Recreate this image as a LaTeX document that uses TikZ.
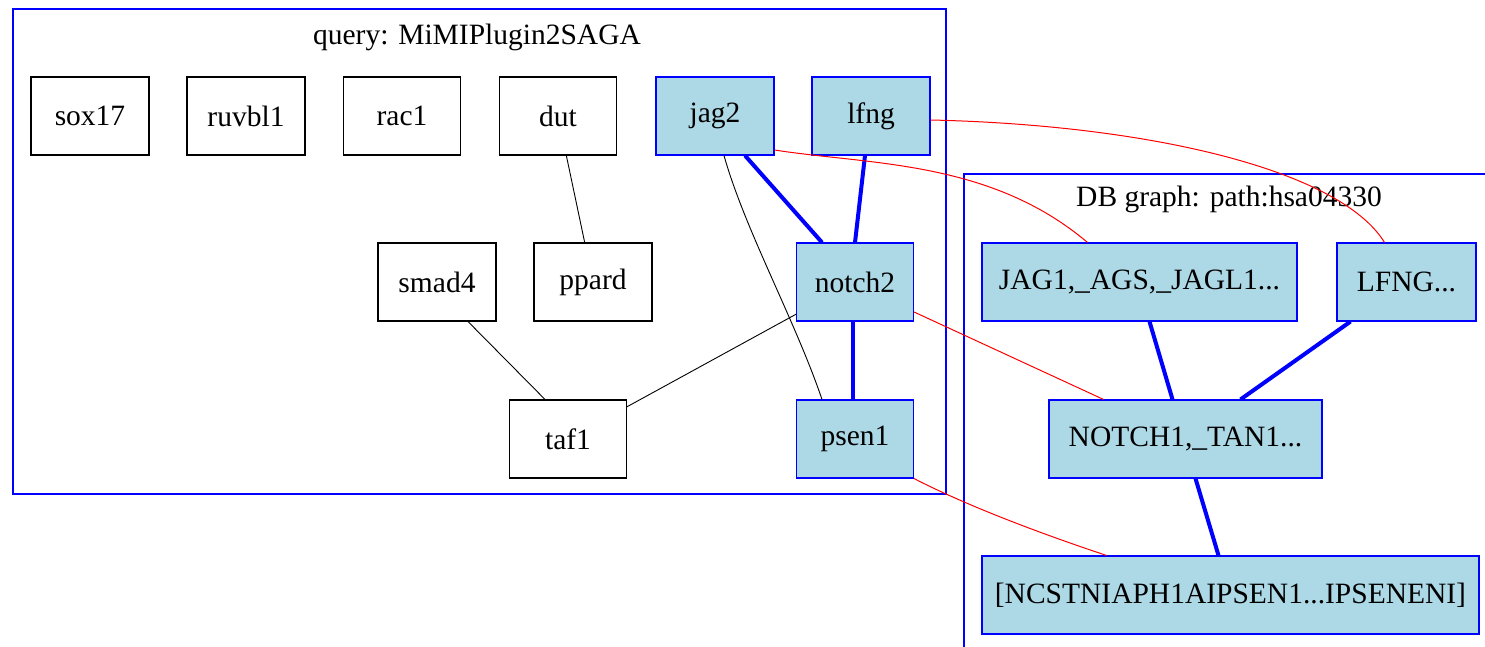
\documentclass[tikz,border=0pt]{standalone}
\usepackage{fontspec}
\setmainfont{Liberation Serif}
\usetikzlibrary{calc}
\definecolor{lblue}{RGB}{173,216,230}
\definecolor{pblue}{RGB}{0,0,255}
\definecolor{pred}{RGB}{255,0,0}
\tikzset{
  gnode/.style={draw=black, line width=1.1pt, rectangle, minimum height=78pt, inner sep=0pt, font=\fontsize{29.5}{33}\selectfont},
  hnode/.style={gnode, draw=pblue, fill=lblue},
  cluster/.style={draw=pblue, line width=1.4pt},
  ctitle/.style={font=\fontsize{29.5}{33}\selectfont, inner sep=0pt},
  thin/.style={draw=black, line width=0.9pt},
  thick/.style={draw=pblue, line width=4pt},
  map/.style={draw=pred, line width=1pt},
}
\begin{document}
\begin{tikzpicture}[x=1pt,y=-1pt]
\useasboundingbox (0,0) rectangle (1485,647);
\clip (0,0) rectangle (1485,647);
\fill[white] (0,0) rectangle (1485,647);
% clusters
\draw[cluster] (13,9) rectangle (946,494);
\node[ctitle] (qtitle) at (477,37) {query: MiMIPlugin2SAGA};
\draw[cluster] (964,174) rectangle (1520,680);
\node[ctitle] (dbtitle) at (1229,199) {DB graph: path:hsa04330};
% query nodes
\node[gnode, minimum width=118pt] (sox17) at (90,116) {sox17};
\node[gnode, minimum width=118pt] (ruvbl1) at (246,116) {ruvbl1};
\node[gnode, minimum width=117pt] (rac1) at (402,116) {rac1};
\node[gnode, minimum width=117pt] (dut) at (558,116) {dut};
\node[hnode, minimum width=118pt] (jag2) at (715,116) {jag2};
\node[hnode, minimum width=118pt] (lfng) at (871,116) {lfng};
\node[gnode, minimum width=118pt] (smad4) at (437,282) {smad4};
\node[gnode, minimum width=118pt] (ppard) at (593,282) {ppard};
\node[hnode, minimum width=117pt] (notch2) at (855,282) {notch2};
\node[gnode, minimum width=117pt] (taf1) at (568,439) {taf1};
\node[hnode, minimum width=117pt] (psen1) at (855,439) {psen1};
% DB nodes
\node[hnode, minimum width=315pt] (JAG1) at (1139.5,282) {JAG1,\_AGS,\_JAGL1...};
\node[hnode, minimum width=139pt] (LFNG) at (1406.5,282) {LFNG...};
\node[hnode, minimum width=273pt] (NOTCH1) at (1185.5,439) {NOTCH1,\_TAN1...};
\node[hnode, minimum width=497pt] (NCSTN) at (1230.5,595) {[NCSTNIAPH1AIPSEN1...IPSENENI]};
% query edges
\draw[thin] (dut) -- (ppard);
\draw[thin] ($(smad4.south)+(31,0)$) -- ($(taf1.north)+(-23,0)$);
\draw[thin] (notch2) -- (taf1);
\draw[thin] ($(jag2.south)+(9,0)$) .. controls (745,230) and (795,320) .. ($(psen1.north)+(-33,0)$);
\draw[thick] ($(jag2.south)+(30,0)$) -- ($(notch2.north)+(-33,0)$);
\draw[thick] ($(lfng.south)+(-6,0)$) -- ($(notch2.north)+(0,0)$);
\draw[thick] ($(notch2.south)+(-2,0)$) -- ($(psen1.north)+(-2,0)$);
% DB edges
\draw[thick] ($(JAG1.south)+(10,0)$) -- ($(NOTCH1.north)+(-13,0)$);
\draw[thick] ($(LFNG.south)+(-56,0)$) -- ($(NOTCH1.north)+(55,0)$);
\draw[thick] ($(NOTCH1.south)+(10,0)$) -- ($(NCSTN.north)+(-12,0)$);
% mapping edges
\draw[map] ($(jag2.east)+(0,34)$) .. controls (870,165) and (990,160) .. ($(JAG1.north)+(-52,0)$);
\draw[map] ($(lfng.east)+(0,4)$) .. controls (1150,125) and (1340,170) .. ($(LFNG.north)+(-22,0)$);
\draw[map] ($(notch2.east)+(0,30)$) -- ($(NOTCH1.north)+(-82,0)$);
\draw[map] ($(psen1.south east)$) .. controls (940,492) and (1000,520) .. ($(NCSTN.north)+(-124,0)$);
\end{tikzpicture}
\end{document}
